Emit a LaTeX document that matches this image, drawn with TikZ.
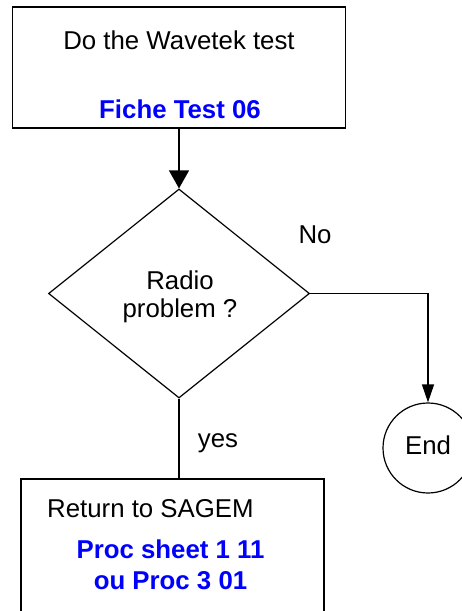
\documentclass[tikz,border=0pt]{standalone}
\usepackage{fontspec}
\setmainfont{Liberation Sans}
\usetikzlibrary{shapes.geometric, arrows.meta}
\tikzset{
  box/.style={draw, line width=1.2pt, inner sep=0pt},
  txt/.style={font=\fontsize{25.8}{28}\selectfont, inner sep=0pt},
  ref/.style={font=\fontsize{25.8}{31}\selectfont\bfseries, text=blue, inner sep=0pt, align=center},
  bigtip/.style={-{Triangle[length=18pt,width=20pt]}, line width=1.2pt},
  smalltip/.style={-{Triangle[length=18pt,width=12pt]}, line width=1.2pt},
}

\begin{document}
\begin{tikzpicture}[x=1pt, y=-1pt]
\clip (0,0) rectangle (462,611);
\node[box, minimum width=333pt, minimum height=121pt] (wavetek) at (179,67.5) {};
\node[txt, anchor=base] (wavetekTxt) at (179,49) {Do the Wavetek test};
\node[ref, anchor=base] (ficheTxt) at (180,118) {Fiche Test 06};
\node[box, diamond, minimum width=261pt, minimum height=209pt] (radio) at (179,293.5) {};
\node[txt, align=center] (radioTxt) at (180,297) {Radio\\problem ?};
\node[box, circle, minimum size=90pt] (end) at (428,448) {};
\node[txt] (endTxt) at (428,445) {End};
\node[box, minimum width=303pt, minimum height=170pt] (sagem) at (172.5,564) {};
\node[txt, anchor=base west] (sagemTxt) at (47,517) {Return to SAGEM};
\node[ref] (procTxt) at (170.5,565) {Proc sheet 1 11\\ou Proc 3 01};
\node[txt] (noTxt) at (315,235) {No};
\node[txt, anchor=base] (yesTxt) at (218,447) {yes};
\draw[bigtip] (wavetek.south) -- (radio.north);
\draw[smalltip] (radio.east) -| (end.north);
\draw[line width=1.2pt] (radio.south) -- (radio.south |- sagem.north);
\end{tikzpicture}
\end{document}
